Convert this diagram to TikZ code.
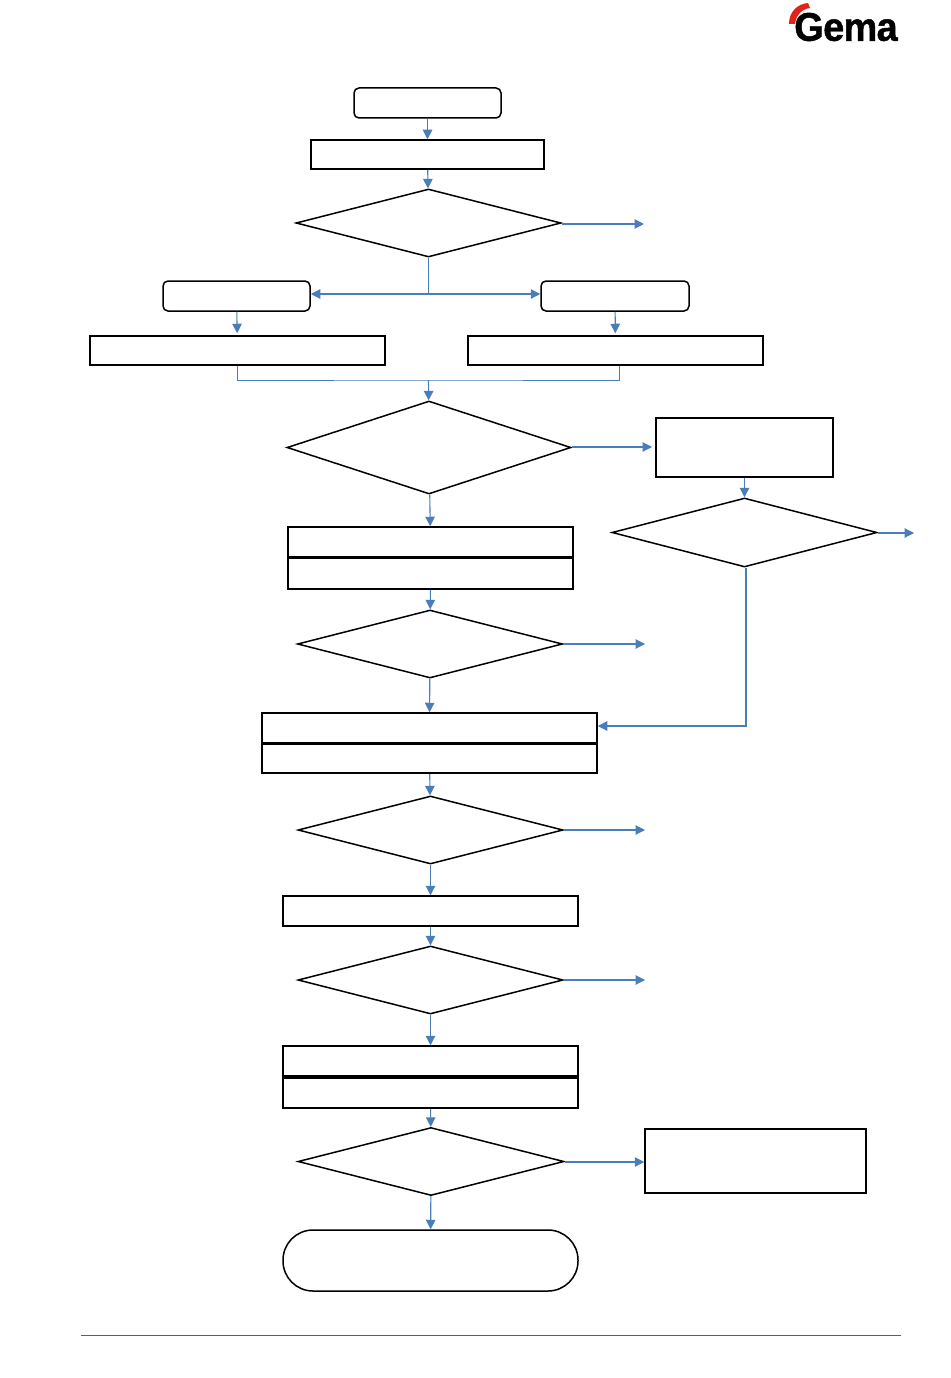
\documentclass[tikz,border=0pt]{standalone}
\usepackage{fontspec}
\newfontfamily\gemafont[FakeBold=1.2,LetterSpace=-1.5]{Liberation Sans Bold}
\usetikzlibrary{arrows.meta,shapes.geometric}
\definecolor{flowblue}{HTML}{4A7EBB}
\definecolor{footline}{HTML}{4F6272}
\definecolor{gemared}{HTML}{E2231A}
\tikzset{
  procbox/.style={draw=black, line width=1.5pt, fill=white, minimum height=29pt, inner sep=0pt},
  termbox/.style={procbox, rounded corners=5pt, minimum height=30pt},
  decision/.style={draw=black, line width=1.5pt, diamond, inner sep=0pt, minimum width=265pt, minimum height=68pt},
  flow/.style={draw=flowblue, line width=1.1pt, -{Triangle[length=9.5pt,width=9.5pt]}},
  flowthin/.style={draw=flowblue, line width=0.9pt}
}
\begin{document}
\begin{tikzpicture}[x=1pt,y=-1pt]
  \useasboundingbox (0,0) rectangle (950,1378);
  % logo
  \fill[gemared] (789,24) .. controls (789,12) and (797,4) .. (808,3) -- (810,8) .. controls (802,9) and (796,15) .. (795,24) -- cycle;
  \node[font=\gemafont\fontsize{40}{40}\selectfont, text=black, inner sep=0pt, xscale=0.945] (gema) at (846,27) {Gema};
  % top part
  \node[termbox, minimum width=147pt] (start) at (427.5,103) {};
  \node[procbox, minimum width=233pt] (first) at (427.5,154.5) {};
  \node[decision] (testa) at (428.5,223) {};
  \coordinate (testaout) at (644,224);
  \coordinate (split) at (428.5,294);
  \node[termbox, minimum width=147pt] (startl) at (236.5,296) {};
  \node[termbox, minimum width=148pt] (startr) at (615,296) {};
  \node[procbox, minimum width=295pt] (boxl) at (237.5,350.5) {};
  \node[procbox, minimum width=295pt] (boxr) at (615.5,350.5) {};
  \coordinate (merge) at (428.5,380);
  \draw[flow] (start) -- (first);
  \draw[flow] (first) -- (testa);
  \draw[flow] (testa.east |- testaout) -- (testaout);
  \draw[flowthin] (testa.south) -- (split);
  \draw[flow] (split) -- (split -| startl.east);
  \draw[flow] (split) -- (split -| startr.west);
  \draw[flow, shorten >=2pt] (startl) -- (boxl);
  \draw[flow, shorten >=2pt] (startr) -- (boxr);
  \draw[flowthin] (boxl.south) |- (merge) -| ([xshift=4pt]boxr.south);
  % middle part
  \node[decision, minimum width=284pt, minimum height=93pt] (testb) at (429,447.5) {};
  \coordinate (testbout) at (652,447);
  \node[procbox, minimum width=177pt, minimum height=59pt] (side) at (744.5,447.5) {};
  \node[decision, minimum height=69pt] (testc) at (744.5,532.5) {};
  \coordinate (testcout) at (914,533);
  \node[procbox, minimum width=285pt, minimum height=30pt] (boxa) at (430.5,542) {};
  \node[procbox, minimum width=285pt, minimum height=31pt] (boxb) at (430.5,573.5) {};
  \node[decision] (testd) at (430,644) {};
  \coordinate (testdout) at (645,644);
  \node[procbox, minimum width=335pt, minimum height=30pt] (boxc) at (429.5,728) {};
  \node[procbox, minimum width=335pt] (boxd) at (429.5,758.5) {};
  \coordinate (bend) at (746,726);
  \draw[flow] (merge) -- (testb);
  \draw[flow] (testb.east |- testbout) -- (testbout);
  \draw[flow] (side) -- (testc);
  \draw[flow] (testc.east |- testcout) -- (testcout);
  \draw[flow] (testb) -- (boxa);
  \draw[flow] (boxb) -- (testd);
  \draw[flow] (testd.east) -- (testdout);
  \draw[flow] (testd) -- (boxc);
  \draw[flow] ([xshift=1.5pt]testc.south) -- (bend) -- (bend -| boxc.east);
  % bottom part
  \node[decision] (teste) at (430.5,830) {};
  \coordinate (testeout) at (645,830);
  \node[procbox, minimum width=295pt, minimum height=30pt] (boxe) at (430.5,911) {};
  \node[decision] (testf) at (430.5,980) {};
  \coordinate (testfout) at (645,980);
  \node[procbox, minimum width=295pt, minimum height=30pt] (boxf) at (430.5,1061) {};
  \node[procbox, minimum width=295pt, minimum height=30pt] (boxg) at (430.5,1093) {};
  \node[decision, minimum width=266pt] (testg) at (431,1161.5) {};
  \node[procbox, minimum width=221pt, minimum height=64pt] (last) at (755.5,1161) {};
  \coordinate (testgout) at (last.west |- 0,1162);
  \node[procbox, rounded corners=30pt, minimum width=295pt, minimum height=61pt] (finish) at (430.5,1260.5) {};
  \draw[flow] (boxd) -- (teste);
  \draw[flow] (teste.east) -- (testeout);
  \draw[flow] (teste) -- (boxe);
  \draw[flow] (boxe) -- (testf);
  \draw[flow] (testf.east) -- (testfout);
  \draw[flow] (testf) -- (boxf);
  \draw[flow] (boxg) -- (testg);
  \draw[flow] (testg.east |- testgout) -- (testgout);
  \draw[flow] (testg) -- (finish);
  % footer
  \coordinate (footl) at (81,1335);
  \coordinate (footr) at (901,1335);
  \draw[footline, line width=0.9pt] (footl) -- (footr);
\end{tikzpicture}
\end{document}
